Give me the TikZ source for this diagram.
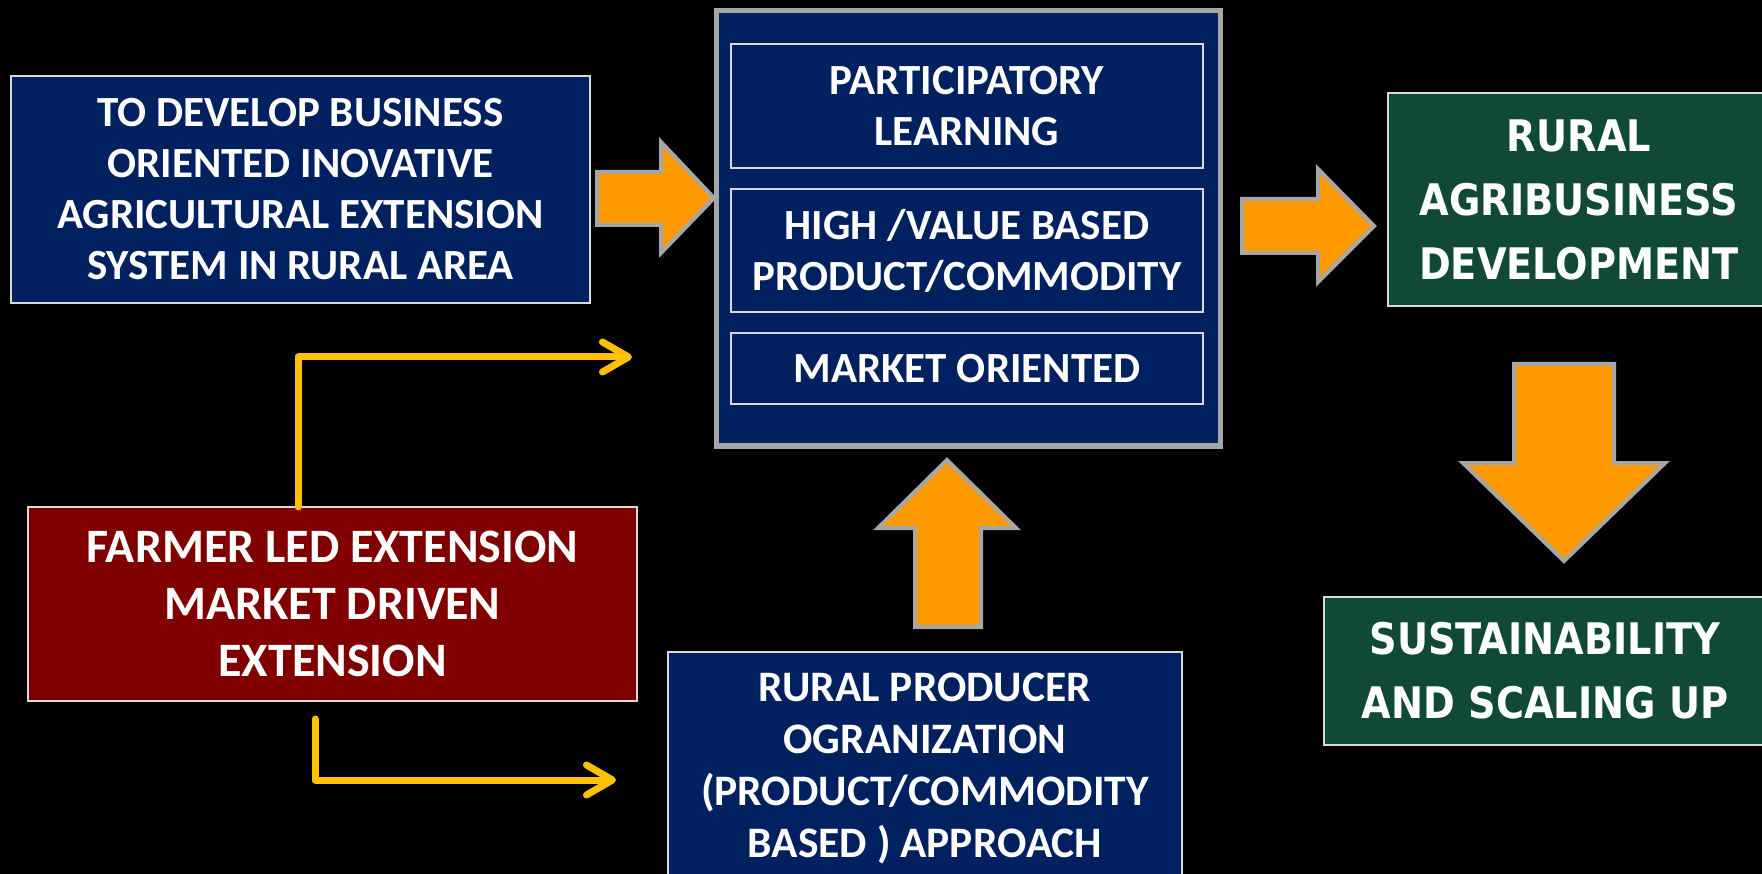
\documentclass[tikz,border=0pt]{standalone}
\usepackage{fontspec}
\newfontfamily\carlfont{Carlito}
\newfontfamily\dejafont[FakeStretch=0.88]{DejaVu Sans}
\usetikzlibrary{arrows.meta}
\definecolor{navy}{RGB}{0,32,96}
\definecolor{maroonbox}{RGB}{128,0,0}
\definecolor{greenbox}{RGB}{16,74,52}
\definecolor{orangefill}{RGB}{255,153,0}
\definecolor{arrowgray}{RGB}{166,166,166}
\definecolor{edgegray}{RGB}{217,217,217}
\definecolor{connyellow}{RGB}{255,192,0}
\begin{document}
\begin{tikzpicture}[x=1pt,y=-1pt,
  box/.style={draw=edgegray, line width=2pt, inner sep=0pt, outer sep=0pt, text=white, align=center},
  bluebox/.style={box, fill=navy, font=\carlfont\bfseries\fontsize{43}{51}\selectfont},
  innerbox/.style={box, fill=navy, minimum width=472pt, font=\carlfont\bfseries\fontsize{43}{51}\selectfont},
  redbox/.style={box, fill=maroonbox, font=\carlfont\bfseries\fontsize{48}{57}\selectfont},
  greenbx/.style={box, fill=greenbox, font=\dejafont\bfseries\fontsize{43.5}{64}\selectfont},
  frame/.style={draw=arrowgray, line width=5pt, fill=navy, inner sep=0pt, outer sep=0pt},
  blockarrow/.style={fill=orangefill, draw=arrowgray, line width=4pt, line join=miter},
  conn/.style={draw=connyellow, line width=7pt, line cap=round, line join=round,
    -{Straight Barb[length=26pt,width=30pt,round]}}
]
\useasboundingbox (0,0) rectangle (1762,874);
\clip (0,0) rectangle (1762,874);
\fill[black] (0,0) rectangle (1762,874);

% left goal box
\node[bluebox, minimum width=579pt, minimum height=227pt] (goal) at (300.5,189.5)
  {TO DEVELOP BUSINESS\\ORIENTED INOVATIVE\\AGRICULTURAL EXTENSION\\SYSTEM IN RURAL AREA};

% central frame and its three boxes
\node[frame, minimum width=504pt, minimum height=435pt] (core) at (968,228.5) {};
\node[innerbox, minimum height=124pt] (learn) at (967,106) {PARTICIPATORY\\LEARNING};
\node[innerbox, minimum height=123pt] (value) at (967,250.5) {HIGH /VALUE BASED\\PRODUCT/COMMODITY};
\node[innerbox, minimum height=71pt] (market) at (967,368.5) {MARKET ORIENTED};

% green boxes
\node[greenbx, minimum width=382pt, minimum height=213pt] (agri) at (1579,199.5)
  {RURAL\\AGRIBUSINESS\\DEVELOPMENT};
\node[greenbx, minimum width=442pt, minimum height=148pt] (sust) at (1545,671)
  {SUSTAINABILITY\\AND SCALING UP};

% farmer led box
\node[redbox, minimum width=609pt, minimum height=194pt] (farmer) at (332.5,604)
  {FARMER LED EXTENSION\\MARKET DRIVEN\\EXTENSION};

% producer organization box
\node[bluebox, font=\carlfont\bfseries\fontsize{43.5}{52}\selectfont,
  minimum width=514pt, minimum height=233pt] (rpo) at (925,768.5)
  {RURAL PRODUCER\\OGRANIZATION\\(PRODUCT/COMMODITY\\BASED ) APPROACH};

% orange block arrows
\draw[blockarrow] (597,172) -- (661,172) -- (661,142) -- (714,198) -- (661,253)
  -- (661,225) -- (597,225) -- cycle;
\draw[blockarrow] (1242,199) -- (1318,199) -- (1318,169) -- (1374,226) -- (1318,282)
  -- (1318,253) -- (1242,253) -- cycle;
\draw[blockarrow] (1514,364) -- (1614,364) -- (1614,463) -- (1665,463) -- (1564,561)
  -- (1463,463) -- (1514,463) -- cycle;
\draw[blockarrow] (915,627) -- (981,627) -- (981,528) -- (1016,528) -- (947,460)
  -- (878,528) -- (915,528) -- cycle;

% yellow connectors
\coordinate (upend) at (632,357);
\coordinate (lowstart) at (315,719);
\coordinate (lowend) at (616,780);
\draw[conn] ([xshift=-34.5pt]farmer.north) |- (upend);
\draw[conn] (lowstart) |- (lowend);
\end{tikzpicture}
\end{document}
